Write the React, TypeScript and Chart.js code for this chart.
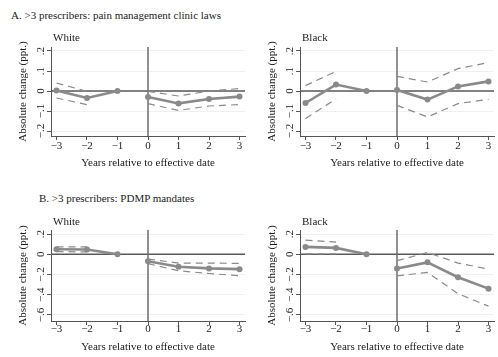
import React, { useEffect, useRef } from "react";
import { Chart, registerables } from "chart.js";

Chart.register(...registerables);

const FONT = "'Liberation Serif', 'Times New Roman', serif";
Chart.defaults.font.family = FONT;
Chart.defaults.color = "#222";

const years = [-3, -2, -1, 0, 1, 2, 3];
const ticksA = [-0.2, -0.1, 0, 0.1, 0.2];
const ticksB = [-0.6, -0.4, -0.2, 0, 0.2];

// Panel A (pain management clinic laws)
const aWhiteEst = [0.003, -0.035, 0, -0.03, -0.062, -0.04, -0.028];
const aWhiteHi = [0.04, -0.002, null, -0.002, -0.025, 0, 0.012];
const aWhiteLo = [-0.035, -0.068, null, -0.063, -0.097, -0.075, -0.068];

const aBlackEst = [-0.06, 0.032, 0, 0.005, -0.043, 0.023, 0.048];
const aBlackHi = [0.027, 0.098, null, 0.073, 0.045, 0.112, 0.142];
const aBlackLo = [-0.138, -0.04, null, -0.072, -0.13, -0.063, -0.042];

// Panel B (PDMP mandates)
const bWhiteEst = [0.05, 0.047, 0, -0.07, -0.123, -0.14, -0.147];
const bWhiteHi = [0.073, 0.073, null, -0.047, -0.087, -0.087, -0.09];
const bWhiteLo = [0.027, 0.023, null, -0.093, -0.163, -0.19, -0.213];

const bBlackEst = [0.073, 0.063, 0, -0.14, -0.08, -0.227, -0.34];
const bBlackHi = [0.14, 0.12, null, -0.063, 0.017, -0.087, -0.147];
const bBlackLo = [0.003, 0.003, null, -0.213, -0.18, -0.39, -0.513];

const GRAY = "#8a8a8a";

function fmtY(v: number) {
  if (Math.abs(v) < 1e-9) return "0";
  const s = Math.abs(v).toFixed(1).replace(/^0/, "");
  return (v < 0 ? "\u2212" : "") + s;
}
function fmtX(v: number) {
  return v < 0 ? "\u2212" + Math.abs(v) : String(v);
}

const refLines = {
  id: "refLines",
  beforeDatasetsDraw(chart: any) {
    const { ctx, chartArea, scales } = chart;
    const y0 = scales.y.getPixelForValue(0);
    const x0 = scales.x.getPixelForValue(0);
    ctx.save();
    ctx.strokeStyle = "#5a5a5a";
    ctx.lineWidth = 1.3;
    ctx.beginPath();
    ctx.moveTo(chartArea.left, y0);
    ctx.lineTo(chartArea.right, y0);
    ctx.stroke();
    ctx.strokeStyle = "#6e6e6e";
    ctx.lineWidth = 1.5;
    ctx.beginPath();
    ctx.moveTo(x0, chartArea.top);
    ctx.lineTo(x0, chartArea.bottom);
    ctx.stroke();
    ctx.restore();
  },
};

const subLabel = {
  id: "subLabel",
  afterDraw(chart: any, _args: any, opts: any) {
    const { ctx, chartArea } = chart;
    ctx.save();
    ctx.font = `11px ${FONT}`;
    ctx.fillStyle = "#222";
    ctx.textBaseline = "middle";
    ctx.textAlign = "left";
    ctx.fillText(opts.text, chartArea.left + 2, chartArea.top - opts.gap);
    ctx.restore();
  },
};

type PanelProps = {
  left: number;
  top: number;
  subtitle: string;
  est: (number | null)[];
  hi: (number | null)[];
  lo: (number | null)[];
  yMin: number;
  yMax: number;
  yTicks: number[];
  padTop: number;
  xAxisHeight: number;
  xTitlePad: number;
  xTickPad: number;
  subGap: number;
};

function Panel(p: PanelProps) {
  const ref = useRef<HTMLCanvasElement>(null);
  useEffect(() => {
    const pts = (arr: (number | null)[], pre: boolean) =>
      years
        .map((x, i) => ({ x, y: arr[i] }))
        .filter((pt) => (pre ? pt.x < 0 : pt.x >= 0));
    const estDs = (data: any) => ({
      data,
      borderColor: GRAY,
      backgroundColor: GRAY,
      borderWidth: 2.6,
      pointRadius: 3,
      pointBorderWidth: 0,
      pointBackgroundColor: GRAY,
      tension: 0,
      spanGaps: false,
    });
    const ciDs = (data: any) => ({
      data,
      borderColor: GRAY,
      borderWidth: 1.2,
      borderDash: [7, 5],
      pointRadius: 0,
      tension: 0,
      spanGaps: false,
    });
    const chart = new Chart(ref.current as HTMLCanvasElement, {
      type: "line",
      data: {
        datasets: [
          estDs(pts(p.est, true)),
          estDs(pts(p.est, false)),
          ciDs(pts(p.hi, true)),
          ciDs(pts(p.lo, true)),
          ciDs(pts(p.hi, false)),
          ciDs(pts(p.lo, false)),
        ] as any,
      },
      options: {
        animation: false,
        responsive: false,
        devicePixelRatio: 1,
        layout: { padding: { top: p.padTop, left: 0, right: 0, bottom: 0 } },
        plugins: {
          legend: { display: false },
          tooltip: { enabled: false },
          subLabel: { text: p.subtitle, gap: p.subGap },
        } as any,
        scales: {
          x: {
            type: "linear",
            min: -3.18,
            max: 3.18,
            afterBuildTicks: (s: any) => {
              s.ticks = years.map((value) => ({ value }));
            },
            afterFit: (s: any) => {
              s.height = p.xAxisHeight;
              s.paddingLeft = 0;
              s.paddingRight = 0;
            },
            ticks: {
              callback: (v: any) => fmtX(Number(v)),
              font: { size: 11 },
              padding: p.xTickPad,
              minRotation: 0,
              maxRotation: 0,
              autoSkip: false,
              color: "#222",
            },
            grid: { drawOnChartArea: false, tickColor: "#555", tickLength: 4 },
            border: { color: "#555", width: 1 },
            title: {
              display: true,
              text: "Years relative to effective date",
              font: { size: 11 },
              color: "#222",
              padding: { top: 0, bottom: p.xTitlePad },
            },
          },
          y: {
            type: "linear",
            min: p.yMin,
            max: p.yMax,
            afterBuildTicks: (s: any) => {
              s.ticks = p.yTicks.map((value) => ({ value }));
            },
            afterFit: (s: any) => {
              s.width = 51;
            },
            ticks: {
              callback: (v: any) => fmtY(Number(v)),
              font: { size: 11 },
              minRotation: 90,
              maxRotation: 90,
              crossAlign: "center",
              padding: -1.2,
              autoSkip: false,
              color: "#222",
            },
            grid: { color: "#edf1f2", tickColor: "#555", tickLength: 4, lineWidth: 1 },
            border: { color: "#555", width: 1 },
            title: {
              display: true,
              text: "Absolute change (ppt.)",
              font: { size: 11 },
              color: "#222",
              padding: { top: 17, bottom: 0 },
            },
          },
        },
      } as any,
      plugins: [refLines, subLabel],
    });
    return () => chart.destroy();
  }, []);
  return (
    <div style={{ position: "absolute", left: p.left, top: p.top, width: 249, height: 178 }}>
      <canvas ref={ref} width={249} height={178} style={{ display: "block" }} />
    </div>
  );
}

const titleStyle: React.CSSProperties = {
  position: "absolute",
  fontFamily: FONT,
  fontSize: 11,
  color: "#222",
  whiteSpace: "nowrap",
  lineHeight: "13px",
};

export default function App() {
  const commonA = { yMin: -0.225, yMax: 0.22, yTicks: ticksA, padTop: 47, xAxisHeight: 42, xTitlePad: 8.4, xTickPad: 0, subGap: 9 };
  const commonB = { yMin: -0.66, yMax: 0.24, yTicks: ticksB, padTop: 51, xAxisHeight: 36, xTitlePad: 3.4, xTickPad: -2, subGap: 8 };
  return (
    <div style={{ position: "absolute", left: 0, top: 0, width: 498, height: 357, background: "#fff", overflow: "hidden" }}>
      <div style={{ ...titleStyle, left: 11, top: 9 }}>A. &gt;3 prescribers: pain management clinic laws</div>
      <div style={{ ...titleStyle, left: 39, top: 192 }}>B. &gt;3 prescribers: PDMP mandates</div>
      <Panel left={0} top={0} subtitle="White" est={aWhiteEst} hi={aWhiteHi} lo={aWhiteLo} {...commonA} />
      <Panel left={249} top={0} subtitle="Black" est={aBlackEst} hi={aBlackHi} lo={aBlackLo} {...commonA} />
      <Panel left={0} top={179} subtitle="White" est={bWhiteEst} hi={bWhiteHi} lo={bWhiteLo} {...commonB} />
      <Panel left={249} top={179} subtitle="Black" est={bBlackEst} hi={bBlackHi} lo={bBlackLo} {...commonB} />
    </div>
  );
}
